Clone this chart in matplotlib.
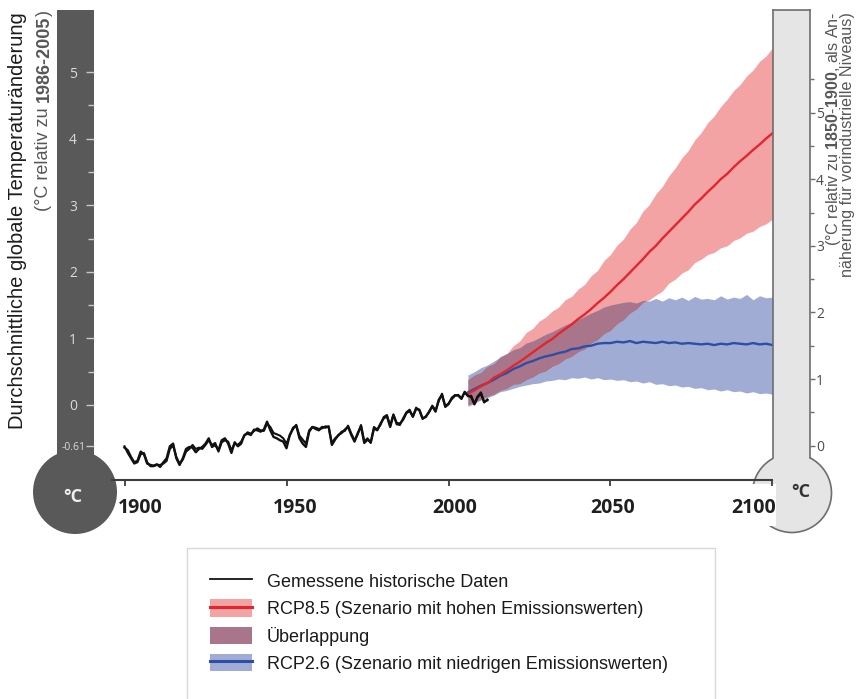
import numpy as np
import matplotlib
matplotlib.use("Agg")
import matplotlib.pyplot as plt
from matplotlib.patches import Circle, Rectangle, Patch
from matplotlib.lines import Line2D
from matplotlib.legend_handler import HandlerTuple
from matplotlib.transforms import Affine2D

plt.rcParams["font.family"] = ["Liberation Sans", "DejaVu Sans"]
plt.rcParams["mathtext.fontset"] = "custom"
plt.rcParams["mathtext.bf"] = "Liberation Sans:bold"

# ---------------------------------------------------------------- data
hist_years = np.arange(1900, 2013)
# two observational records, anomaly in °C relative to 1986-2005
hist_a = [
    -0.64, -0.68, -0.78, -0.86, -0.84, -0.70, -0.74, -0.88, -0.90, -0.91,
    -0.89, -0.93, -0.86, -0.80, -0.62, -0.58, -0.80, -0.90, -0.80, -0.66,
    -0.63, -0.64, -0.71, -0.66, -0.63, -0.58, -0.50, -0.63, -0.60, -0.68,
    -0.53, -0.50, -0.58, -0.72, -0.56, -0.62, -0.58, -0.45, -0.43, -0.45,
    -0.37, -0.38, -0.40, -0.37, -0.25, -0.38, -0.48, -0.50, -0.53, -0.55,
    -0.65, -0.45, -0.36, -0.30, -0.50, -0.58, -0.63, -0.40, -0.33, -0.36,
    -0.38, -0.33, -0.34, -0.32, -0.60, -0.52, -0.45, -0.42, -0.37, -0.33,
    -0.45, -0.55, -0.42, -0.32, -0.57, -0.52, -0.56, -0.35, -0.38, -0.28,
    -0.20, -0.17, -0.33, -0.15, -0.27, -0.28, -0.22, -0.12, -0.09, -0.17,
    -0.06, -0.07, -0.20, -0.18, -0.10, -0.02, -0.10, 0.08, 0.15, -0.02,
    0.02, 0.09, 0.14, 0.15, 0.10, 0.19, 0.14, 0.12, 0.01, 0.12,
    0.17, 0.04, 0.08,
]
hist_b = [
    -0.62, -0.72, -0.80, -0.88, -0.86, -0.74, -0.72, -0.86, -0.92, -0.92,
    -0.90, -0.90, -0.88, -0.84, -0.66, -0.61, -0.78, -0.88, -0.82, -0.70,
    -0.66, -0.60, -0.66, -0.64, -0.66, -0.60, -0.53, -0.60, -0.57, -0.70,
    -0.56, -0.53, -0.55, -0.68, -0.58, -0.60, -0.55, -0.46, -0.41, -0.43,
    -0.39, -0.35, -0.38, -0.39, -0.28, -0.33, -0.42, -0.44, -0.46, -0.50,
    -0.58, -0.46, -0.34, -0.31, -0.46, -0.52, -0.58, -0.38, -0.33, -0.34,
    -0.36, -0.35, -0.32, -0.33, -0.57, -0.50, -0.46, -0.40, -0.39, -0.31,
    -0.43, -0.53, -0.44, -0.30, -0.55, -0.50, -0.57, -0.33, -0.37, -0.30,
    -0.18, -0.15, -0.31, -0.14, -0.29, -0.30, -0.20, -0.11, -0.07, -0.18,
    -0.04, -0.08, -0.21, -0.17, -0.11, -0.01, -0.08, 0.06, 0.17, -0.03,
    0.01, 0.11, 0.15, 0.14, 0.09, 0.20, 0.13, 0.14, 0.02, 0.13,
    0.19, 0.05, 0.07,
]

proj_years = np.arange(2006, 2101, 2)
rcp85_mid = [
    0.17, 0.22, 0.28, 0.33, 0.41, 0.46, 0.52, 0.59, 0.65, 0.72,
    0.79, 0.86, 0.93, 0.99, 1.07, 1.14, 1.21, 1.29, 1.36, 1.44,
    1.53, 1.61, 1.70, 1.80, 1.89, 1.99, 2.09, 2.19, 2.30, 2.39,
    2.50, 2.60, 2.70, 2.80, 2.90, 3.01, 3.10, 3.20, 3.29, 3.39,
    3.47, 3.57, 3.66, 3.74, 3.83, 3.91, 4.00, 4.08,
]
rcp85_hi = [
    0.38, 0.45, 0.49, 0.58, 0.62, 0.73, 0.77, 0.89, 0.96, 1.09,
    1.15, 1.26, 1.32, 1.41, 1.47, 1.58, 1.63, 1.74, 1.81, 1.94,
    2.02, 2.17, 2.26, 2.40, 2.49, 2.64, 2.74, 2.91, 3.01, 3.17,
    3.28, 3.44, 3.56, 3.71, 3.82, 3.98, 4.09, 4.24, 4.34, 4.48,
    4.59, 4.72, 4.81, 4.94, 5.03, 5.16, 5.24, 5.36,
]
rcp85_lo = [
    0.00, 0.05, 0.08, 0.13, 0.16, 0.22, 0.25, 0.31, 0.32, 0.38,
    0.42, 0.48, 0.51, 0.58, 0.62, 0.69, 0.73, 0.80, 0.84, 0.93,
    0.98, 1.07, 1.12, 1.22, 1.28, 1.38, 1.44, 1.54, 1.58, 1.65,
    1.71, 1.83, 1.89, 1.98, 2.03, 2.14, 2.19, 2.26, 2.29, 2.36,
    2.39, 2.47, 2.51, 2.58, 2.61, 2.68, 2.72, 2.79,
]
rcp26_mid = [
    0.19, 0.24, 0.29, 0.33, 0.38, 0.44, 0.48, 0.54, 0.58, 0.63,
    0.66, 0.70, 0.73, 0.75, 0.78, 0.80, 0.84, 0.85, 0.88, 0.89,
    0.92, 0.93, 0.93, 0.95, 0.94, 0.96, 0.93, 0.95, 0.94, 0.93,
    0.95, 0.93, 0.94, 0.92, 0.93, 0.92, 0.91, 0.92, 0.90, 0.92,
    0.91, 0.93, 0.92, 0.91, 0.93, 0.91, 0.92, 0.90,
]
rcp26_hi = [
    0.45, 0.50, 0.56, 0.60, 0.66, 0.72, 0.77, 0.83, 0.86, 0.93,
    0.96, 1.01, 1.06, 1.10, 1.15, 1.20, 1.24, 1.28, 1.33, 1.38,
    1.42, 1.47, 1.50, 1.52, 1.54, 1.55, 1.53, 1.57, 1.56, 1.60,
    1.56, 1.61, 1.58, 1.62, 1.57, 1.63, 1.59, 1.60, 1.58, 1.64,
    1.59, 1.62, 1.60, 1.66, 1.58, 1.64, 1.61, 1.62,
]
rcp26_lo = [
    -0.02, 0.02, 0.08, 0.11, 0.15, 0.20, 0.22, 0.25, 0.28, 0.30,
    0.32, 0.33, 0.36, 0.37, 0.39, 0.38, 0.41, 0.40, 0.42, 0.39,
    0.41, 0.38, 0.39, 0.37, 0.38, 0.35, 0.36, 0.33, 0.35, 0.31,
    0.32, 0.29, 0.30, 0.27, 0.28, 0.25, 0.26, 0.23, 0.24, 0.21,
    0.23, 0.20, 0.21, 0.18, 0.20, 0.17, 0.18, 0.16,
]

year_ticks = [1900, 1950, 2000, 2050, 2100]
left_ticks = [-0.61, 0, 1, 2, 3, 4, 5]
left_labels = ["-0.61", "0", "1", "2", "3", "4", "5"]
right_ticks = [0, 1, 2, 3, 4, 5]
baseline_shift = 0.61  # 1850-1900 baseline lies 0.61 °C below 1986-2005

legend_labels = [
    "Gemessene historische Daten",
    "RCP8.5 (Szenario mit hohen Emissionswerten)",
    "Überlappung",
    "RCP2.6 (Szenario mit niedrigen Emissionswerten)",
]

# ---------------------------------------------------------------- style
RED_BAND, RED_LINE = "#f4a3a5", "#e3262b"
BLUE_BAND, BLUE_LINE = "#a1acd5", "#2e4ea5"
OVERLAP = "#a9758a"
DARK, LIGHT, EDGE = "#595959", "#e5e5e5", "#6e6e6e"
GREY_TXT = "#575757"

W, H, DPI = 856, 699, 100
fig = plt.figure(figsize=(W / DPI, H / DPI), dpi=DPI)
# pixel coordinates measured from the top-left corner
px = Affine2D().scale(1 / DPI, -1 / DPI).translate(0, H / DPI) + fig.dpi_scale_trans


def box(l, t, r, b):
    return [l / W, 1 - b / H, (r - l) / W, (b - t) / H]


# scale: 1900 sits at x=124.5 px, 0 °C at y=405 px
PX_YEAR, PX_DEG = 3.24, 66.6
X1900, Y0 = 124.5, 405
L, R, T, B = 94, 773, 10, 480
xlim = (1900 + (L - X1900) / PX_YEAR, 1900 + (R - X1900) / PX_YEAR)
ylim = ((Y0 - B) / PX_DEG, (Y0 - T) / PX_DEG)

# ---------------------------------------------------------------- main plot
ax = fig.add_axes(box(L, T, R, B))
ax.set_xlim(xlim)
ax.set_ylim(ylim)
ax.patch.set_visible(False)
for s in ("left", "right", "top"):
    ax.spines[s].set_visible(False)
ax.spines["bottom"].set_bounds(1896, 2100)
ax.spines["bottom"].set_color("#3d3d3d")
ax.spines["bottom"].set_linewidth(1.5)
ax.set_yticks([])
ax.set_xticks(year_ticks)
ax.tick_params(axis="x", length=4, width=1.3, color="#3d3d3d", labelbottom=False)

ax.fill_between(proj_years, rcp85_lo, rcp85_hi, color=RED_BAND, lw=0)
ax.fill_between(proj_years, rcp26_lo, rcp26_hi, color=BLUE_BAND, lw=0)
ov_lo = np.maximum(rcp85_lo, rcp26_lo)
ov_hi = np.minimum(rcp85_hi, rcp26_hi)
ax.fill_between(proj_years, ov_lo, ov_hi, where=ov_hi > ov_lo,
                interpolate=True, color=OVERLAP, lw=0)
ax.plot(proj_years, rcp26_mid, color=BLUE_LINE, lw=1.7)
ax.plot(proj_years, rcp85_mid, color=RED_LINE, lw=1.7)
ax.plot(hist_years, hist_a, color="#111111", lw=1.7)
ax.plot(hist_years, hist_b, color="#111111", lw=1.5)

# year labels sit a little off their ticks
label_shift = [4.8, 2.6, 2.0, 0.8, -5.7]
for yr, dx in zip(year_ticks, label_shift):
    ax.text(yr + dx, (Y0 - 508) / PX_DEG, str(yr), ha="center", va="center",
            fontsize=14, fontweight="bold", family="Open Sans",
            color="#1f1f1f", clip_on=False)

# ---------------------------------------------------------------- left thermometer
ax_l = fig.add_axes(box(57, T, 94, B))
ax_l.set_ylim(ylim)
ax_l.set_facecolor(DARK)
for s in ax_l.spines.values():
    s.set_visible(False)
ax_l.set_xticks([])
ax_l.yaxis.tick_right()
ax_l.set_yticks(left_ticks, labels=left_labels, ha="center")
ax_l.set_yticks(np.arange(0.5, 5, 1), minor=True)
ax_l.tick_params(axis="y", which="both", direction="in", color="#c9c9c9",
                 width=1.0, pad=-15, labelcolor="#dadada", labelsize=10,
                 labelfontfamily="Open Sans")
ax_l.tick_params(axis="y", which="major", length=5.8)
ax_l.tick_params(axis="y", which="minor", length=4.3)
ax_l.get_yticklabels()[0].set_fontsize(7.5)
fig.add_artist(Circle((75, 492), 42, transform=px, fc=DARK, ec="none", zorder=-1))
fig.text(73, 497, "°C", transform=px, ha="center", va="center", fontsize=13,
         fontweight="bold", family="Open Sans", color="#eeeeee")

# ---------------------------------------------------------------- right thermometer
ax_r = fig.add_axes(box(773, T, 810, B))
ylim_r = (ylim[0] + baseline_shift, ylim[1] + baseline_shift)
ax_r.set_ylim(ylim_r)
ax_r.set_facecolor(LIGHT)
ax_r.spines["bottom"].set_visible(False)
neck = baseline_shift + (Y0 - 458) / PX_DEG
for s in ("left", "right", "top"):
    ax_r.spines[s].set_color(EDGE)
    ax_r.spines[s].set_linewidth(1.2)
ax_r.spines["left"].set_bounds(neck, ylim_r[1])
ax_r.spines["right"].set_bounds(neck, ylim_r[1])
ax_r.set_xticks([])
ax_r.yaxis.tick_right()
ax_r.set_yticks(right_ticks)
ax_r.set_yticks(np.arange(0.5, 6, 1), minor=True)
ax_r.tick_params(axis="y", which="both", direction="out", color=EDGE, width=1.0,
                 pad=0.8, labelcolor="#4d4d4d", labelsize=10,
                 labelfontfamily="Open Sans")
ax_r.tick_params(axis="y", which="major", length=3.6)
ax_r.tick_params(axis="y", which="minor", length=2.6)
fig.add_artist(Circle((792, 493), 39.5, transform=px, fc=LIGHT, ec=EDGE,
                      lw=1.2, zorder=-1))
# white gap behind the "2100" label
fig.add_artist(Rectangle((728, 484), 48, 42, transform=px, fc="white",
                         ec="none", zorder=-0.5))
fig.text(801, 492, "°C", transform=px, ha="center", va="center", fontsize=13,
         fontweight="bold", family="Open Sans", color="#333333")

# ---------------------------------------------------------------- axis titles
fig.text(18, 12, "Durchschnittliche globale Temperaturänderung", transform=px,
         rotation=90, ha="center", va="top", fontsize=14.5, color="#1c1c1c")

t3 = fig.text(44, 10, ")", transform=px, rotation=90, ha="center", va="top",
              fontsize=13, color=GREY_TXT)
t2 = ax.annotate("1986-2005", xy=(0.5, 0), xycoords=t3, xytext=(0, 0),
                 textcoords="offset points", rotation=90, ha="center", va="top",
                 fontsize=13, fontweight="bold", color=GREY_TXT)
ax.annotate("(°C relativ zu", xy=(0.5, 0), xycoords=t2, xytext=(0, -3.6),
            textcoords="offset points", rotation=90, ha="center", va="top",
            fontsize=13, color=GREY_TXT)

# right title: two tight lines, both ending at the top edge
fig.text(839.6, 12,
         "(°C relativ zu $\\mathbf{1850}$-$\\mathbf{1900}$, als An-\n"
         "näherung für vorindustrielle Niveaus)",
         transform=px, rotation=90, ha="center", va="top", ma="right",
         linespacing=0.8, fontsize=11.6, color=GREY_TXT)

# ---------------------------------------------------------------- legend
fig.add_artist(Rectangle((187, 548), 528, 170, transform=px, fc="white",
                         ec="#d9d9d9", lw=1.0, zorder=1))
handles = [
    Line2D([], [], color="#111111", lw=1.3),
    (Patch(fc=RED_BAND, lw=0), Line2D([], [], color=RED_LINE, lw=2.2)),
    Patch(fc=OVERLAP, lw=0),
    (Patch(fc=BLUE_BAND, lw=0), Line2D([], [], color=BLUE_LINE, lw=2.2)),
]
fig.legend(handles, legend_labels, loc="upper left",
           bbox_to_anchor=(210 / W, 1 - 572 / H), frameon=False, fontsize=13,
           labelcolor="#1a1a1a", handlelength=2.33, handleheight=1.1,
           labelspacing=0.47, handletextpad=0.83, borderpad=0, borderaxespad=0,
           handler_map={tuple: HandlerTuple(ndivide=1, pad=0)})

fig.savefig("out.png", dpi=DPI)
